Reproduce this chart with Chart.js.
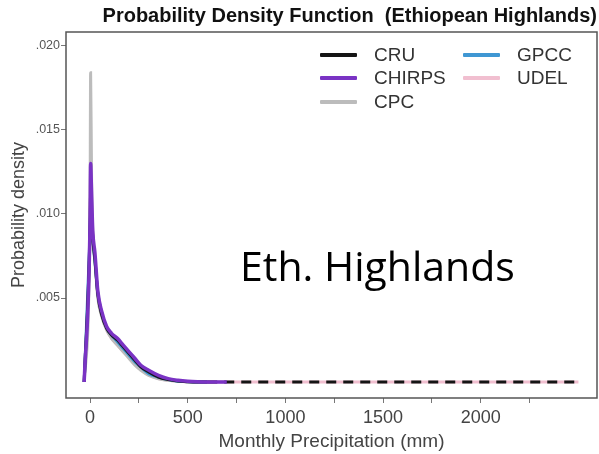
<!DOCTYPE html>
<html>
<head>
<meta charset="utf-8">
<script src="https://cdn.jsdelivr.net/npm/chart.js@4.4.1/dist/chart.umd.min.js"></script>
<style>
    html, body { margin: 0; padding: 0; background: #fff; }
    #wrap { position: relative; width: 599px; height: 454px; }
    #pdfChart { position: absolute; left: 0; top: 0; }
    #legend {
        position: absolute; left: 320px; top: 43px;
        display: grid; grid-auto-flow: column;
        grid-template-rows: repeat(3, 23.5px);
        grid-template-columns: 143px auto;
        font-family: 'Liberation Sans', Arial, Helvetica, sans-serif;
        font-size: 19px; color: #333;
    }
    #legend .item { display: flex; align-items: center; }
    #legend .swatch { width: 37px; height: 4px; margin-right: 17px; border-radius: 1px; }
    #label {
        position: absolute; left: 240px; top: 245px;
        font-family: 'Open Sans', sans-serif; font-size: 41px; line-height: 41px;
        color: #000; white-space: nowrap;
    }
</style>
</head>
<body>
<div id="wrap">
    <canvas id="pdfChart" width="599" height="454"></canvas>
    <div id="legend"></div>
    <div id="label">Eth. Highlands</div>
</div>
<script>
// Précipitations mensuelles (mm) - grille commune
const precipMm = [-30, 0, 3, 8, 14, 25, 40, 60, 85, 110, 140, 170, 200, 230, 260, 300, 350, 400, 450, 500, 550, 600, 650, 700, 2500];

// Densités
const cruDensity    = [0, 0.0090, 0.0112, 0.0100, 0.0086, 0.0073, 0.0052, 0.0040, 0.0032, 0.0028, 0.0025, 0.0021, 0.0017, 0.0013, 0.0009, 0.0006, 0.0003, 0.00015, 0.00006, 0.00002, 0, 0, 0, 0, 0];
const chirpsDensity = [0, 0.0095, 0.0130, 0.0112, 0.0090, 0.0077, 0.0054, 0.0042, 0.0033, 0.0029, 0.0026, 0.0022, 0.0018, 0.0014, 0.0010, 0.0007, 0.0004, 0.0002, 0.0001, 0.00004, 0.00001, 0, 0, 0, null];
const cpcDensity    = [0, 0.0100, 0.0184, 0.0120, 0.0088, 0.0072, 0.0050, 0.0039, 0.0031, 0.0026, 0.0022, 0.0018, 0.0014, 0.0010, 0.0007, 0.0004, 0.0002, 0.0001, 0.00004, 0.00001, 0, 0, null, null, null];
const gpccDensity   = [0, 0.0088, 0.0100, 0.0095, 0.0085, 0.0072, 0.0053, 0.0041, 0.0032, 0.0028, 0.0024, 0.0020, 0.0016, 0.0012, 0.0009, 0.0005, 0.0003, 0.00015, 0.00005, 0.00002, 0, 0, null, null, null];
const udelDensity   = [0, 0.0092, 0.0125, 0.0108, 0.0088, 0.0074, 0.0051, 0.0040, 0.0031, 0.0026, 0.0022, 0.0018, 0.0015, 0.0011, 0.0008, 0.0005, 0.0002, 0.0001, 0.00004, 0.00001, 0, 0, 0, 0, 0];

const seriesNames = ['CRU', 'CHIRPS', 'CPC', 'GPCC', 'UDEL'];
const seriesValues = [cruDensity, chirpsDensity, cpcDensity, gpccDensity, udelDensity];

// Graduations
const xTickValues = [0, 250, 500, 750, 1000, 1250, 1500, 1750, 2000, 2250];
const yTickValues = [0.005, 0.010, 0.015, 0.020];

const FONT = "'Liberation Sans', Arial, Helvetica, sans-serif";
const colors = {
    CRU: '#151515',
    CHIRPS: '#7a33c4',
    CPC: '#bcbcbc',
    GPCC: '#3f97d3',
    UDEL: '#f1bfd0'
};
// Ordre de dessin (plus petit = au-dessus)
const drawOrder = { CHIRPS: 0, CRU: 1, GPCC: 2, CPC: 3, UDEL: 4 };

function toPoints(values) {
    const pts = [];
    values.forEach((v, i) => {
        if (v !== null) pts.push({ x: precipMm[i], y: v });
    });
    return pts;
}

const datasets = seriesNames.map((name, i) => {
    const ds = {
        label: name,
        data: toPoints(seriesValues[i]),
        borderColor: colors[name],
        borderWidth: name === 'CHIRPS' ? 3.5 : 3,
        pointRadius: 0,
        fill: false,
        cubicInterpolationMode: 'monotone',
        order: drawOrder[name]
    };
    // Pointillés au-delà de 600 mm pour CRU
    if (name === 'CRU') {
        ds.segment = {
            borderDash: ctx => ctx.p0.parsed.x >= 600 ? [10, 7] : undefined
        };
    }
    return ds;
});

// Cadre autour de la zone du graphique
const frameBox = {
    id: 'frameBox',
    afterDraw(chart) {
        const { ctx, chartArea: a } = chart;
        ctx.save();
        ctx.strokeStyle = '#555';
        ctx.lineWidth = 1.5;
        ctx.strokeRect(a.left, a.top, a.right - a.left, a.bottom - a.top);
        ctx.restore();
    }
};

new Chart(document.getElementById('pdfChart'), {
    type: 'line',
    data: { datasets: datasets },
    options: {
        responsive: false,
        animation: false,
        layout: { padding: { left: 0, right: 2, top: 0, bottom: 0 } },
        plugins: {
            legend: { display: false },
            tooltip: { enabled: false },
            title: {
                display: true,
                text: 'Probability Density Function  (Ethiopean Highlands)',
                align: 'end',
                color: '#111',
                font: { family: FONT, size: 20, weight: 'bold' },
                padding: { top: 4, bottom: 4 }
            }
        },
        scales: {
            x: {
                type: 'linear',
                min: -123,
                max: 2595,
                afterFit: s => { s.height = 56; },
                afterBuildTicks: s => { s.ticks = xTickValues.map(v => ({ value: v })); },
                ticks: {
                    color: '#444',
                    font: { family: FONT, size: 18 },
                    padding: 4,
                    maxRotation: 0,
                    autoSkip: false,
                    callback: v => (v % 500 === 0 ? String(v) : '')
                },
                grid: { drawOnChartArea: false, drawTicks: true, tickLength: 5, tickColor: '#777' },
                border: { display: false },
                title: {
                    display: true,
                    text: 'Monthly Precipitation (mm)',
                    color: '#444',
                    font: { family: FONT, size: 19 },
                    padding: { top: 0, bottom: 1 }
                }
            },
            y: {
                type: 'linear',
                min: -0.00095,
                max: 0.02083,
                afterFit: s => { s.width = 66; },
                afterBuildTicks: s => { s.ticks = yTickValues.map(v => ({ value: v })); },
                ticks: {
                    color: '#555',
                    font: { family: FONT, size: 12.5 },
                    padding: 1,
                    callback: v => v.toFixed(3).replace(/^0/, '')
                },
                grid: { drawOnChartArea: false, drawTicks: true, tickLength: 5, tickColor: '#777' },
                border: { display: false },
                title: {
                    display: true,
                    text: 'Probability density',
                    color: '#444',
                    font: { family: FONT, size: 18 },
                    padding: { top: 8, bottom: 0 }
                }
            }
        }
    },
    plugins: [frameBox]
});

// Légende HTML (deux colonnes)
const legendEl = document.getElementById('legend');
seriesNames.forEach(name => {
    const item = document.createElement('div');
    item.className = 'item';
    const sw = document.createElement('span');
    sw.className = 'swatch';
    sw.style.background = colors[name];
    const txt = document.createElement('span');
    txt.textContent = name;
    item.appendChild(sw);
    item.appendChild(txt);
    legendEl.appendChild(item);
});
</script>
</body>
</html>
